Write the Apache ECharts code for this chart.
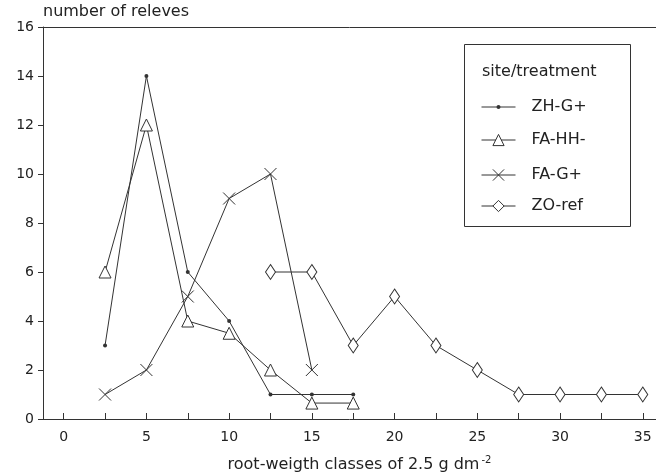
<!DOCTYPE html>
<html>
<head>
<meta charset="utf-8">
<script src="https://cdn.jsdelivr.net/npm/echarts@6/dist/echarts.min.js"></script>
<style>html,body{margin:0;padding:0;background:#fff}#c{width:656px;height:472px}</style>
</head>
<body>
<div id="c"></div>
<script>
// Data
var classes = [2.5, 5, 7.5, 10, 12.5, 15, 17.5, 20, 22.5, 25, 27.5, 30, 32.5, 35];
var zhG = [[2.5, 3], [5, 14], [7.5, 6], [10, 4], [12.5, 1], [15, 1], [17.5, 1]];
var faHH = [[2.5, 6], [5, 12], [7.5, 4], [10, 3.5], [12.5, 2], [15, 0.65], [17.5, 0.65]];
var faG = [[2.5, 1], [5, 2], [7.5, 5], [10, 9], [12.5, 10], [15, 2]];
var zoRef = [[12.5, 6], [15, 6], [17.5, 3], [20, 5], [22.5, 3], [25, 2], [27.5, 1], [30, 1], [32.5, 1], [35, 1]];
var xTickValues = [0, 2.5, 5, 7.5, 10, 12.5, 15, 17.5, 20, 22.5, 25, 27.5, 30, 32.5, 35];
var xLabelValues = [0, 5, 10, 15, 20, 25, 30, 35];
var seriesNames = ['ZH-G+', 'FA-HH-', 'FA-G+', 'ZO-ref'];

var INK = '#333';
var FONT = 'DejaVu Sans';
var crossPath = 'path://M0,0L10,10M10,0L0,10';

function lineSeries(name, data, symbol, size, filled) {
  return {
    name: name, type: 'line', data: data, symbol: symbol, symbolSize: size,
    showSymbol: true, animation: false,
    lineStyle: { color: INK, width: 1 },
    itemStyle: { color: filled ? INK : '#fff', borderColor: INK, borderWidth: filled ? 0 : 1 },
    emphasis: { disabled: true }
  };
}

function legendItem(name, top, h, filled) {
  return {
    data: [name], orient: 'vertical', left: 476, top: top,
    itemWidth: 34, itemHeight: h,
    lineStyle: { width: 1, color: INK },
    itemStyle: { color: filled ? INK : '#fff', borderColor: INK, borderWidth: filled ? 0 : 1 },
    textStyle: { fontFamily: FONT, fontSize: 16, color: '#222', padding: [0, 0, 0, 11] },
    selectedMode: false
  };
}

var chart = echarts.init(document.getElementById('c'), null, { renderer: 'canvas' });
chart.setOption({
  animation: false,
  backgroundColor: '#fff',
  grid: { left: 43, right: 0, top: 27, bottom: 53, containLabel: false, outerBoundsMode: 'none' },
  xAxis: [{
    type: 'value', min: -1.25, max: 35.8,
    axisLine: { show: true, onZero: false, lineStyle: { color: INK, width: 1 } },
    axisTick: { show: true, inside: true, length: 6, customValues: xTickValues, lineStyle: { color: INK } },
    axisLabel: { customValues: xLabelValues, fontFamily: FONT, fontSize: 14, color: '#222', margin: 11 },
    splitLine: { show: false },
    name: '{n|root-weigth classes of 2.5 g dm}{s|-2}',
    nameLocation: 'middle', nameGap: 36,
    nameTextStyle: {
      fontFamily: FONT, fontSize: 16, color: '#222', padding: [0, 0, 0, 20],
      rich: {
        n: { fontFamily: FONT, fontSize: 16, color: '#222' },
        s: { fontFamily: FONT, fontSize: 10, color: '#222', verticalAlign: 'bottom', padding: [0, 0, 10, 2] }
      }
    }
  }, {
    type: 'value', position: 'top', min: -1.25, max: 35.8,
    axisLine: { show: true, onZero: false, lineStyle: { color: INK, width: 1 } },
    axisTick: { show: false }, axisLabel: { show: false }, splitLine: { show: false }
  }],
  yAxis: {
    type: 'value', min: 0, max: 16, interval: 2,
    axisLine: { show: true, onZero: false, lineStyle: { color: INK, width: 1 } },
    axisTick: { show: true, inside: false, length: 5, lineStyle: { color: INK } },
    axisLabel: { fontFamily: FONT, fontSize: 14, color: '#222', margin: 9 },
    splitLine: { show: false },
    name: 'number of releves', nameLocation: 'end', nameGap: 7,
    nameTextStyle: { fontFamily: FONT, fontSize: 16, color: '#222', align: 'left', verticalAlign: 'bottom' }
  },
  legend: [
    legendItem(seriesNames[0], 94, 5, true),
    legendItem(seriesNames[1], 127, 14, false),
    legendItem(seriesNames[2], 162, 14, false),
    legendItem(seriesNames[3], 193, 14, false)
  ],
  graphic: [
    { type: 'rect', shape: { x: 464.5, y: 44.5, width: 166, height: 182 },
      style: { fill: '#fff', stroke: INK, lineWidth: 1 }, z: 0 },
    { type: 'text', left: 482, top: 64,
      style: { text: 'site/treatment', font: '16px ' + FONT, fill: '#222' }, z: 10 }
  ],
  series: [
    lineSeries(seriesNames[0], zhG, 'circle', 4, true),
    lineSeries(seriesNames[1], faHH, 'triangle', 12, false),
    lineSeries(seriesNames[2], faG, crossPath, 12, false),
    lineSeries(seriesNames[3], zoRef, 'diamond', [10, 15], false)
  ]
});
</script>
</body>
</html>
